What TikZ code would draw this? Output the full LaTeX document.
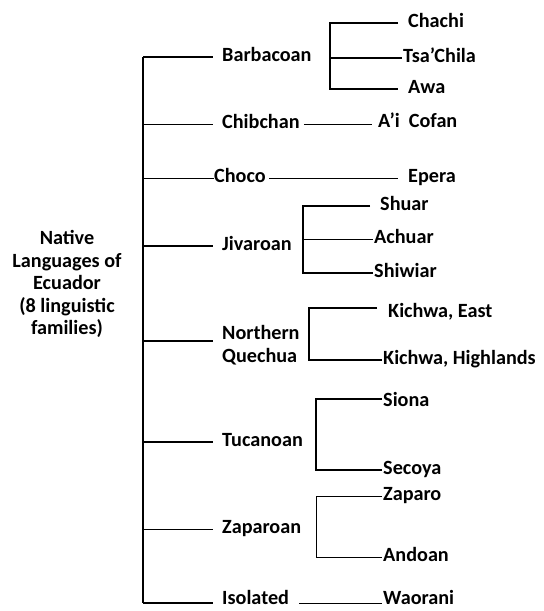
\documentclass[tikz,border=0pt]{standalone}
\usepackage{fontspec}
\setmainfont{Carlito}
\usetikzlibrary{calc}

\tikzset{
  heavy/.style={line width=1.6pt},
  light/.style={line width=0.9pt},
  lang/.style={anchor=west, inner sep=0pt, text height=13.5pt, text depth=4pt},
}

\begin{document}
\begin{tikzpicture}[x=1pt, y=-1pt, font=\fontsize{20.2}{22.5}\selectfont\bfseries]
\useasboundingbox (0,0) rectangle (544,611);

% root label
\node[align=center, inner sep=0pt] (root) at (67,284) {Native\\Languages of\\Ecuador\\(8 linguistic\\families)};

% families
\coordinate (trunk) at (143,0);
\node[lang] (barb) at (222,57) {Barbacoan};
\node[lang] (chib) at (222,124) {Chibchan};
\node[lang] (choco) at (214,178) {Choco};
\node[lang] (jiv) at (222,246) {Jivaroan};
\node[anchor=west, inner sep=0pt, align=left] (nq) at (222,345) {Northern\\Quechua};
\node[lang] (tuc) at (222,442) {Tucanoan};
\node[lang] (zap) at (222,529) {Zaparoan};
\node[lang, text depth=0pt] (iso) at (222,598) {Isolated};

% languages
\node[lang] (chachi) at (408,23) {Chachi};
\node[lang] (tsa) at (403,58) {Tsa’Chila};
\node[lang] (awa) at (408,89) {Awa};
\node[lang] (cofan) at (378,123) {A’i~~Cofan};
\node[lang] (epera) at (408,178) {Epera};
\node[lang] (shuar) at (380,206) {Shuar};
\node[lang] (achuar) at (374,239) {Achuar};
\node[lang] (shiwiar) at (374,273) {Shiwiar};
\node[lang] (keast) at (388,313) {Kichwa, East};
\node[lang] (khigh) at (383,360) {Kichwa, Highlands};
\node[lang] (siona) at (383,402) {Siona};
\node[lang] (secoya) at (383,470) {Secoya};
\node[lang] (zaparo) at (383,496) {Zaparo};
\node[lang] (andoan) at (383,557) {Andoan};
\node[lang, text depth=0pt] (wao) at (383,598) {Waorani};

% trunk and branches
\draw[heavy] (barb.west -| trunk) -- ([yshift=-5pt]iso.west -| trunk);
\foreach \f in {barb,jiv,tuc}
  \draw[heavy] (\f.west -| trunk) -- ([xshift=-9pt]\f.west);
\draw[heavy] ([yshift=-5pt]iso.west -| trunk) -- ([xshift=-9pt,yshift=-5pt]iso.west);
\draw[heavy] ([yshift=4pt]nq.west -| trunk) -- ([xshift=-9pt,yshift=4pt]nq.west);
\draw[light] (chib.west -| trunk) -- ([xshift=-9pt]chib.west);
\draw[light] (zap.west -| trunk) -- ([xshift=-9pt]zap.west);
\draw[light] (choco.west -| trunk) -- (choco.west);

% Barbacoan
\coordinate (bb) at (330,0);
\draw[heavy] ([xshift=-10pt]chachi.west) -| (awa.west -| bb) -- ([xshift=-10pt]awa.west);
\draw[heavy] (tsa.west -| bb) -- ([xshift=-1pt]tsa.west);

% Chibchan, Choco
\draw[light] ([xshift=4pt]chib.east) -- ([xshift=-6pt]chib.east -| cofan.west);
\draw[light] ([xshift=3pt]choco.east) -- ([xshift=-10pt]epera.west);

% Jivaroan
\coordinate (jb) at (303,0);
\draw[heavy] ([xshift=-10pt]shuar.west) -| (shiwiar.west -| jb) -- ([xshift=-1pt]shiwiar.west);
\draw[light] (achuar.west -| jb) -- ([xshift=-1pt]achuar.west);

% Northern Quechua
\coordinate (qt) at (309,308);
\draw[heavy] ([xshift=-11pt]qt -| keast.west) -| (qt |- khigh.west) -- ([xshift=-1pt]khigh.west);

% Tucanoan
\coordinate (tt) at (316,399);
\draw[heavy] ([xshift=-1pt]tt -| siona.west) -| (tt |- secoya.west) -- ([xshift=-1pt]secoya.west);

% Zaparoan
\coordinate (zb) at (316,0);
\draw[light] ([xshift=-1pt]zaparo.west) -| (andoan.west -| zb) -- ([xshift=-1pt]andoan.west);

% Isolated
\draw[light] ([xshift=10pt,yshift=-5pt]iso.east) -- ([xshift=-1pt,yshift=-5pt]wao.west);
\end{tikzpicture}
\end{document}
